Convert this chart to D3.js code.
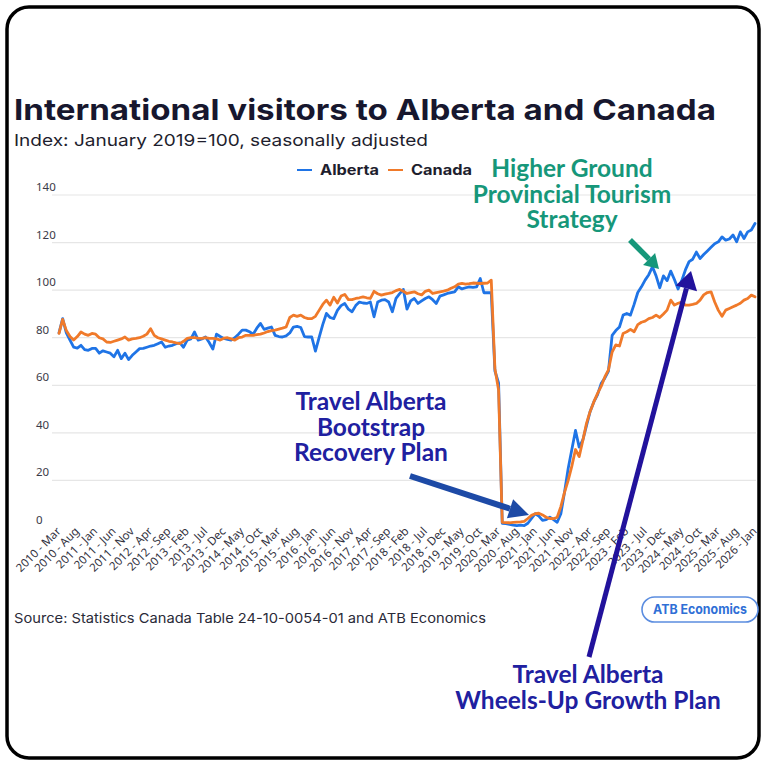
<!DOCTYPE html>
<html>
<head>
<meta charset="utf-8">
<script src="https://cdn.jsdelivr.net/npm/d3@7"></script>
<style>
  html, body { margin: 0; padding: 0; background: #ffffff; }
  svg { display: block; }
</style>
</head>
<body>
<svg id="chart" width="761" height="765"></svg>
<script>
// Monthly index, January 2019 = 100, seasonally adjusted (Mar 2010 – Jan 2026)
const firstMonth = new Date(2010, 2, 1);
const lastMonth = new Date(2026, 0, 1);

const alberta = [
  // 2010 Mar–Dec
  82, 88, 82, 79, 76, 75.6, 76.8, 75, 74.7, 75.5,
  // 2011
  75.5, 73.5, 74.5, 74, 73.5, 72, 74.7, 71.2, 73.5, 70.8, 72.6, 74,
  // 2012
  75.4, 75.5, 76, 76.5, 76.8, 77.5, 78.2, 76, 76.5, 76.8, 77.5, 77.8,
  // 2013
  76, 79, 79.5, 82.4, 79, 79.5, 80.3, 78, 75.2, 81.5, 80.5, 79.7,
  // 2014
  79.3, 79, 80, 81.5, 83.2, 83.2, 82.5, 81.5, 84, 86, 83.5, 84,
  // 2015
  84.5, 81, 80.5, 80.3, 80.8, 82, 84.5, 84.8, 84.3, 80.5, 80.3, 80.3,
  // 2016
  74.4, 80, 85.5, 90.2, 88.5, 88, 91.5, 93.5, 94.4, 92, 90.9, 93.5,
  // 2017
  95, 94.6, 94.4, 95, 88.8, 95, 95.8, 96, 95, 90.9, 96.5, 98.5,
  // 2018
  100.3, 92, 95.5, 96.5, 94.4, 95.5, 96.5, 97.2, 96, 94.4, 97.5, 98,
  // 2019
  98.6, 99, 99.3, 101.4, 100.5, 101, 101.4, 101.2, 101.4, 104.9, 98.9, 98.9,
  // 2020
  98.9, 66, 61, 2, 1.8, 1.5, 1.2, 1, 1.2, 1, 2, 4,
  // 2021
  6, 5, 3.2, 3.5, 4.5, 3.5, 2.4, 6, 15, 25, 33, 41,
  // 2022
  34, 37, 43, 49, 53, 56, 60.7, 63, 66, 81, 83, 84.5,
  // 2023
  89.5, 90.2, 89.5, 94, 99, 101.4, 104.2, 106.5, 109.8, 106, 101, 106,
  // 2024
  104, 108, 104.5, 100.5, 104, 108.5, 112, 113, 116, 113.3, 115, 116.5,
  // 2025
  118, 119.5, 120.3, 122.4, 121, 121.5, 123.2, 120.3, 124.5, 121.7, 124.5, 125.3,
  // 2026 Jan
  128
];

const canada = [
  // 2010 Mar–Dec
  81.8, 87.7, 83, 80.5, 79, 80.5, 82.4, 81.5, 81, 81.8,
  // 2011
  81.5, 80, 79.5, 78.2, 78, 78.5, 79, 79.5, 80.3, 79, 79.5, 79.7,
  // 2012
  80, 80.6, 81.5, 83.8, 81, 80, 79.5, 79, 78.5, 78.2, 77.8, 77.5,
  // 2013
  78.5, 79.7, 80, 80, 79.8, 79.7, 80, 79.7, 79.7, 79.5, 79, 79.8,
  // 2014
  80, 79.5, 79, 80, 80.3, 81, 81, 81, 81.3, 81.5, 82, 82.6,
  // 2015
  83, 83.2, 83.6, 84, 84.5, 88.5, 89.5, 89, 89.5, 88.5, 88, 88,
  // 2016
  89, 91.5, 94, 95.8, 93.7, 97, 94.6, 97.5, 98.2, 96, 96, 96.5,
  // 2017
  96.8, 97.2, 96.8, 96.5, 99.5, 98.5, 97.9, 98.3, 98.6, 99, 99.8, 100.3,
  // 2018
  99.5, 98.6, 99, 99.3, 98.5, 98, 99.5, 100, 98.6, 99, 99.3, 99.6,
  // 2019
  100, 100.8, 101.4, 102.5, 102.8, 102.5, 102.7, 103, 102.9, 102.8, 102.9, 103,
  // 2020
  104.2, 67, 58, 2.4, 2.3, 2.2, 2.4, 2.5, 2.6, 2.8, 4, 5.3,
  // 2021
  6, 6.2, 5.5, 4.5, 4, 3.9, 4.5, 9, 15, 20, 26, 33,
  // 2022
  30, 36.8, 44, 49, 53, 56.5, 59.5, 63.5, 66.5, 74, 77, 76.5,
  // 2023
  81.8, 82.5, 83.5, 82.5, 85.5, 86.5, 87, 88, 88.5, 89.5, 88.5, 90,
  // 2024
  91.6, 95.8, 93.7, 94.5, 95, 93.7, 93.7, 94, 94.4, 95.8, 98, 99,
  // 2025
  99.3, 95, 91.5, 89, 91.6, 92.3, 93, 93.7, 94.5, 95.8, 96.5, 97.9,
  // 2026 Jan
  97.2
];

const xTickLabels = [
  "2010 - Mar", "2010 - Aug", "2011 - Jan", "2011 - Jun", "2011 - Nov",
  "2012 - Apr", "2012 - Sep", "2013 - Feb", "2013 - Jul", "2013 - Dec",
  "2014 - May", "2014 - Oct", "2015 - Mar", "2015 - Aug", "2016 - Jan",
  "2016 - Jun", "2016 - Nov", "2017 - Apr", "2017 - Sep", "2018 - Feb",
  "2018 - Jul", "2018 - Dec", "2019 - May", "2019 - Oct", "2020 - Mar",
  "2020 - Aug", "2021 - Jan", "2021 - Jun", "2021 - Nov", "2022 - Apr",
  "2022 - Sep", "2023 - Feb", "2023 - Jul", "2023 - Dec", "2024 - May",
  "2024 - Oct", "2025 - Mar", "2025 - Aug", "2026 - Jan"
];
const yTicks = [0, 20, 40, 60, 80, 100, 120, 140];

const seriesNames = ["Alberta", "Canada"];
const seriesColors = ["#1f74e6", "#f07a2a"];

// Category labels for every month in the range
const fmt = d3.timeFormat("%Y - %b");
const categories = d3.timeMonth.range(firstMonth, d3.timeMonth.offset(lastMonth, 1)).map(fmt);

const svg = d3.select("#chart");

// Rounded frame
svg.append("rect")
  .attr("x", 7).attr("y", 7)
  .attr("width", 752).attr("height", 751)
  .attr("rx", 22).attr("ry", 22)
  .attr("fill", "#ffffff")
  .attr("stroke", "#000000")
  .attr("stroke-width", 3.5);

const x = d3.scalePoint().domain(categories).range([59, 755]);
const y = d3.scaleLinear().domain([0, 140]).range([528, 195]);

// Horizontal grid
svg.append("g")
  .selectAll("line")
  .data(yTicks.filter(d => d > 0))
  .join("line")
  .attr("x1", 52).attr("x2", 756)
  .attr("y1", d => y(d)).attr("y2", d => y(d))
  .attr("stroke", "#e6e6e6")
  .attr("stroke-width", 1.2);

// Y labels sit just above their grid lines
svg.append("g")
  .selectAll("text")
  .data(yTicks)
  .join("text")
  .attr("x", 36)
  .attr("y", d => y(d) - 4)
  .attr("font-family", "'Noto Sans', sans-serif")
  .attr("font-size", 11.5)
  .attr("fill", "#3a3a48")
  .text(d => d);

// X axis with rotated month labels
const xAxis = d3.axisBottom(x).tickValues(xTickLabels).tickSize(0).tickPadding(0);
const gx = svg.append("g").attr("transform", "translate(0,532)").call(xAxis);
gx.select(".domain").remove();
gx.selectAll("text")
  .attr("font-family", "'Noto Sans', sans-serif")
  .attr("font-size", 11.5)
  .attr("fill", "#33333f")
  .attr("text-anchor", "end")
  .attr("dy", 0)
  .attr("transform", "translate(2,0) rotate(-45)");

// Lines
const line = d3.line()
  .x((d, i) => x(categories[i]))
  .y(d => y(d))
  .curve(d3.curveLinear);

[alberta, canada].forEach((vals, k) => {
  svg.append("path")
    .datum(vals)
    .attr("d", line)
    .attr("fill", "none")
    .attr("stroke", seriesColors[k])
    .attr("stroke-width", 2.8)
    .attr("stroke-linejoin", "round")
    .attr("stroke-linecap", "round");
});

// Title block
svg.append("text")
  .attr("x", 14).attr("y", 120)
  .attr("font-family", "Inter, 'Noto Sans', sans-serif")
  .attr("font-weight", 700)
  .attr("font-size", 29)
  .attr("fill", "#17172e")
  .attr("textLength", 702)
  .attr("lengthAdjust", "spacingAndGlyphs")
  .text("International visitors to Alberta and Canada");

svg.append("text")
  .attr("x", 14).attr("y", 146)
  .attr("font-family", "Inter, 'Noto Sans', sans-serif")
  .attr("font-size", 16.5)
  .attr("fill", "#1e1e2e")
  .attr("textLength", 414)
  .attr("lengthAdjust", "spacingAndGlyphs")
  .text("Index: January 2019=100, seasonally adjusted");

// Legend
const legendX = [297, 388];
const legendTextW = [59, 61];
seriesNames.forEach((name, k) => {
  svg.append("line")
    .attr("x1", legendX[k]).attr("x2", legendX[k] + 15)
    .attr("y1", 170).attr("y2", 170)
    .attr("stroke", seriesColors[k]).attr("stroke-width", 2);
  svg.append("text")
    .attr("x", legendX[k] + 23).attr("y", 175)
    .attr("font-family", "Inter, 'Noto Sans', sans-serif")
    .attr("font-weight", 700)
    .attr("font-size", 14)
    .attr("fill", "#1e1e2e")
    .attr("textLength", legendTextW[k])
    .attr("lengthAdjust", "spacingAndGlyphs")
    .text(name);
});

// Source
svg.append("text")
  .attr("x", 14).attr("y", 623)
  .attr("font-family", "Inter, 'Noto Sans', sans-serif")
  .attr("font-size", 13.5)
  .attr("fill", "#2a2a38")
  .attr("textLength", 472)
  .attr("lengthAdjust", "spacingAndGlyphs")
  .text("Source: Statistics Canada Table 24-10-0054-01 and ATB Economics");

// Brand badge
svg.append("rect")
  .attr("x", 642).attr("y", 597)
  .attr("width", 116).attr("height", 25)
  .attr("rx", 12.5)
  .attr("fill", "#ffffff")
  .attr("stroke", "#5b8de0")
  .attr("stroke-width", 1.6);
svg.append("text")
  .attr("x", 700).attr("y", 614)
  .attr("text-anchor", "middle")
  .attr("font-family", "Inter, 'Noto Sans', sans-serif")
  .attr("font-weight", 700)
  .attr("font-size", 13)
  .attr("fill", "#2f6fd6")
  .attr("textLength", 94)
  .attr("lengthAdjust", "spacingAndGlyphs")
  .text("ATB Economics");

// Annotations: multi-line labels drawn as one text with tspans
function multiline(lines, cx, y0, dy, color) {
  const t = svg.append("text")
    .attr("x", cx).attr("y", y0)
    .attr("text-anchor", "middle")
    .attr("font-family", "Lato, 'Open Sans', sans-serif")
    .attr("font-weight", 700)
    .attr("font-size", 24.5)
    .attr("fill", color);
  lines.forEach((s, i) => {
    t.append("tspan")
      .attr("x", cx)
      .attr("dy", i === 0 ? 0 : dy)
      .text(s);
  });
}

function arrow(x1, y1, x2, y2, color, width, headLen, headW) {
  const ang = Math.atan2(y2 - y1, x2 - x1);
  const bx = x2 - headLen * Math.cos(ang);
  const by = y2 - headLen * Math.sin(ang);
  svg.append("line")
    .attr("x1", x1).attr("y1", y1).attr("x2", bx).attr("y2", by)
    .attr("stroke", color).attr("stroke-width", width);
  const px = -Math.sin(ang) * headW / 2;
  const py = Math.cos(ang) * headW / 2;
  svg.append("polygon")
    .attr("points", [[x2, y2], [bx + px, by + py], [bx - px, by - py]].map(p => p.join(",")).join(" "))
    .attr("fill", color);
}

multiline(["Higher Ground", "Provincial Tourism", "Strategy"], 572, 177, 25.5, "#16977a");
arrow(630, 240, 659, 269, "#16977a", 5.5, 14, 17);

multiline(["Travel Alberta", "Bootstrap", "Recovery Plan"], 371, 410, 25.5, "#2020a0");
arrow(410, 476, 529, 515, "#1d4aa6", 6, 20, 20);

multiline(["Travel Alberta", "Wheels-Up Growth Plan"], 588, 683, 25.5, "#2020a0");
arrow(589, 657, 691, 271, "#22129c", 5, 18, 22);
</script>
</body>
</html>
